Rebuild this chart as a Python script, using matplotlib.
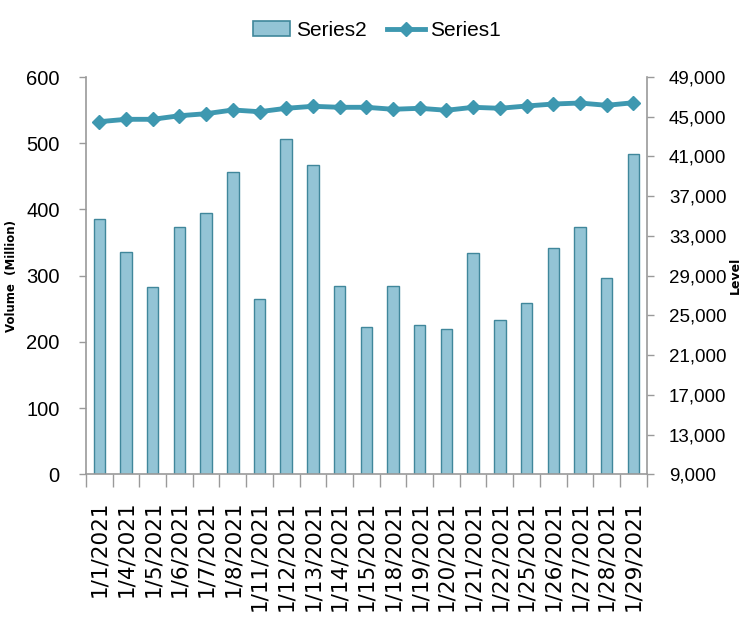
import numpy as np
import matplotlib.pyplot as plt
from matplotlib.ticker import FuncFormatter, FixedLocator
from matplotlib.lines import Line2D
from matplotlib.patches import Patch

# data
dates = ["1/1/2021", "1/4/2021", "1/5/2021", "1/6/2021", "1/7/2021", "1/8/2021",
         "1/11/2021", "1/12/2021", "1/13/2021", "1/14/2021", "1/15/2021",
         "1/18/2021", "1/19/2021", "1/20/2021", "1/21/2021", "1/22/2021",
         "1/25/2021", "1/26/2021", "1/27/2021", "1/28/2021", "1/29/2021"]
volume = [385, 335, 283, 374, 395, 457, 265, 506, 467, 285, 223,
          285, 225, 220, 334, 233, 258, 342, 374, 297, 484]
level = [44500, 44740, 44740, 45100, 45305, 45680, 45505, 45850, 46050, 45950, 45950,
         45750, 45850, 45650, 45950, 45850, 46080, 46280, 46380, 46150, 46410]

left_ticks = [0, 100, 200, 300, 400, 500, 600]
right_ticks = [9000, 13000, 17000, 21000, 25000, 29000, 33000, 37000, 41000, 45000, 49000]

BAR_FACE = "#93C4D5"
BAR_EDGE = "#40879B"
LINE_COL = "#3E98B0"
AXIS_COL = "#9A9A9A"
TICKFONT = ["Liberation Sans", "DejaVu Sans"]

fig = plt.figure(figsize=(7.43, 6.19), dpi=100)
ax = fig.add_axes([0.1157, 0.2338, 0.7547, 0.6418])
ax2 = ax.twinx()

x = np.arange(len(dates))
ax.bar(x, volume, width=0.43, color=BAR_FACE, edgecolor=BAR_EDGE, linewidth=1.0, zorder=2)
ax2.plot(x, level, color=LINE_COL, linewidth=3.5, marker="D", markersize=7.5,
         markeredgecolor=LINE_COL, zorder=3)

ax.set_xlim(-0.5, len(dates) - 0.5)
ax.set_ylim(0, 600)
ax2.set_ylim(9000, 49000)

# left axis
ax.yaxis.set_major_locator(FixedLocator(left_ticks))
ax.tick_params(axis="y", direction="out", length=5, color=AXIS_COL, width=1, pad=14)
for t in ax.get_yticklabels():
    t.set_fontfamily(TICKFONT)
    t.set_fontsize(14.5)

# right axis
ax2.yaxis.set_major_locator(FixedLocator(right_ticks))
ax2.yaxis.set_major_formatter(FuncFormatter(lambda v, p: f"{int(v):,}"))
ax2.tick_params(axis="y", direction="out", length=5, color=AXIS_COL, width=1, pad=11)
for t in ax2.get_yticklabels():
    t.set_fontfamily(TICKFONT)
    t.set_fontsize(13.5)

# category axis: labels at centres, tick marks at boundaries
ax.set_xticks(x)
ax.set_xticklabels(dates, rotation=90, fontsize=15.5, va="top", ha="center",
                   family="DejaVu Sans")
ax.tick_params(axis="x", which="major", length=0, pad=19)
ax.set_xticks(np.arange(-0.5, len(dates)), minor=True)
ax.tick_params(axis="x", which="minor", direction="out", length=9, color=AXIS_COL, width=1)

for a in (ax, ax2):
    a.spines["top"].set_visible(False)
    for s in ("left", "right", "bottom"):
        a.spines[s].set_color(AXIS_COL)
        a.spines[s].set_linewidth(1.2)
ax.spines["right"].set_visible(False)
ax2.spines["left"].set_visible(False)
ax2.spines["bottom"].set_visible(False)

ax.set_ylabel("Volume  (Million)", fontsize=8.5, fontweight="bold")
ax.yaxis.set_label_coords(-0.121, 0.5)
ax2.set_ylabel("Level", fontsize=9, fontweight="bold", rotation=90)
ax2.yaxis.set_label_coords(1.146, 0.5)

handles = [Patch(facecolor=BAR_FACE, edgecolor=BAR_EDGE, linewidth=1.2),
           Line2D([0], [0], color=LINE_COL, linewidth=3.5, marker="D", markersize=7.5)]
fig.legend(handles, ["Series2", "Series1"], loc="center", bbox_to_anchor=(0.507, 0.951),
           ncol=2, frameon=False, prop={"family": TICKFONT, "size": 15},
           handlelength=1.8, handletextpad=0.25, columnspacing=1.0)

fig.savefig("out.png", dpi=100)
